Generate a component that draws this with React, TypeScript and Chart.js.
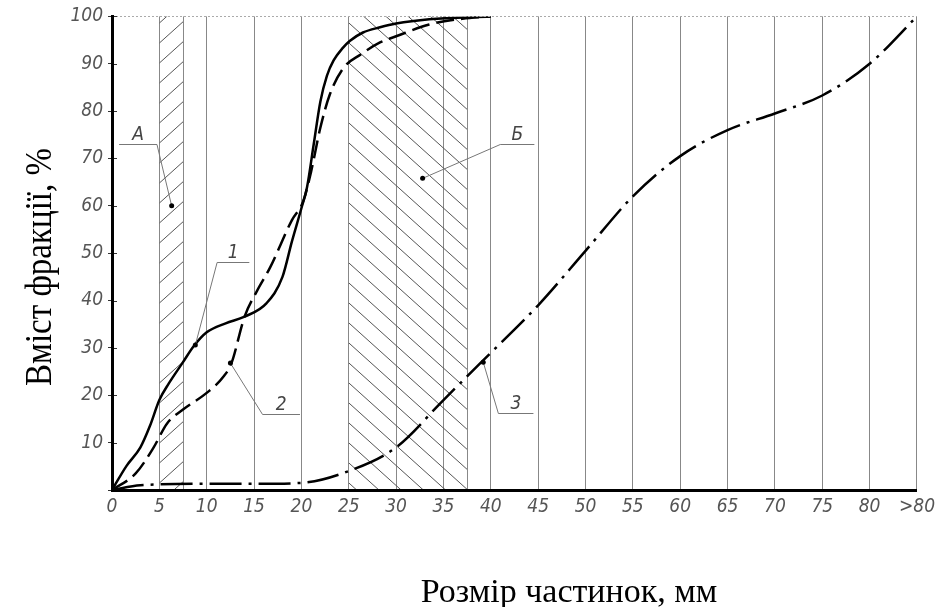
import React, { useEffect, useRef } from 'react';
import { Chart, registerables } from 'chart.js';

Chart.register(...registerables);

// ---------- DATA ----------
const xTickValues = [0, 5, 10, 15, 20, 25, 30, 35, 40, 45, 50, 55, 60, 65, 70, 75, 80, 85];
const xTickLabels = ['0', '5', '10', '15', '20', '25', '30', '35', '40', '45', '50', '55', '60', '65', '70', '75', '80', '>80'];
const yTickValues = [10, 20, 30, 40, 50, 60, 70, 80, 90, 100];
const yTickLabels = ['10', '20', '30', '40', '50', '60', '70', '80', '90', '100'];

const xAxisTitle = 'Розмір частинок, мм';
const yAxisTitle = 'Вміст фракції, %';

// Curve 1 (solid)
const curve1X = [0, 1.5, 3, 4, 5, 6, 7.5, 8.6, 10, 12, 14, 16.3, 18, 19, 20, 20.6, 21.3, 22, 22.7, 23.4, 24.4, 25.1, 26.5, 28.3, 30, 33.5, 40];
const curve1Y = [0, 5, 9, 13.5, 19, 22.5, 27, 30.3, 33.3, 35.2, 36.6, 39.4, 45, 52.5, 59.5, 64, 73, 82, 87.5, 90.7, 93.4, 94.8, 96.6, 97.7, 98.5, 99.4, 100];

// Curve 2 (dashed)
const curve2X = [0, 2.5, 4.4, 5.8, 7.5, 10, 11.8, 12.6, 14, 15.3, 16.7, 19, 20.2, 21, 22, 23, 24.4, 26.3, 28.3, 30, 33.5, 37, 40];
const curve2Y = [0, 3.5, 9, 14, 17, 20.5, 24, 26.7, 36.6, 42, 47, 57, 61, 67, 76.5, 83.5, 89, 92, 94.5, 95.8, 98.3, 99.5, 100];

// Curve 3 (dash-dot)
const curve3X = [0, 3, 10, 15, 20, 25, 30, 35, 39, 45, 50, 55, 60, 65, 70, 75, 80, 85];
const curve3Y = [0, 1, 1.3, 1.3, 1.5, 4, 9, 19, 27, 39, 50.5, 62, 70.5, 76, 79.5, 83.3, 90, 100];

// Hatched zones А and Б
const hatchStart = [5, 25];
const hatchEnd = [7.5, 37.5];
const hatchDirection = ['/', '\\'];

// Callout labels: anchor point on chart (data units), shelf (data units)
const calloutText = ['А', 'Б', '1', '2', '3'];
const calloutAnchorX = [6.3, 32.8, 8.8, 12.5, 39.2];
const calloutAnchorY = [60, 65.8, 30.6, 26.8, 27];
const calloutShelfX1 = [0.75, 41, 11.1, 15.9, 40.8];
const calloutShelfX2 = [4.75, 44.6, 14.5, 19.85, 44.5];
const calloutShelfY = [73, 73, 48.1, 16, 16.2];

// ---------- STYLE ----------
const TICK_FONT = "'DejaVu Sans Condensed', 'Liberation Sans Narrow', 'DejaVu Sans', sans-serif";
const TITLE_FONT = "'Liberation Serif', 'Times New Roman', serif";

const toPoints = (xs: number[], ys: number[]) => xs.map((x, i) => ({ x, y: ys[i] }));

const decorPlugin = {
  id: 'decor',
  beforeDatasetsDraw(chart: any) {
    const { ctx, chartArea: ca, scales } = chart;
    const xs = scales.x;
    hatchStart.forEach((s: number, i: number) => {
      const x1 = xs.getPixelForValue(s);
      const x2 = xs.getPixelForValue(hatchEnd[i]);
      const w = x2 - x1;
      const h = ca.bottom - ca.top;
      const slope = 0.9;
      const gap = 20;
      const dir = hatchDirection[i] === '/' ? -1 : 1;
      ctx.save();
      ctx.beginPath();
      ctx.rect(x1, ca.top, w, h - 1);
      ctx.clip();
      ctx.strokeStyle = '#555';
      ctx.lineWidth = 1;
      ctx.beginPath();
      for (let c = -w * slope - gap * 2 + (i === 0 ? 8 : 13); c < h + w * slope + gap; c += gap) {
        ctx.moveTo(x1, ca.top + c);
        ctx.lineTo(x2, ca.top + c + dir * slope * w);
      }
      ctx.stroke();
      ctx.restore();
      ctx.save();
      ctx.strokeStyle = '#888';
      ctx.lineWidth = 1;
      ctx.beginPath();
      ctx.moveTo(Math.round(x2) + 0.5, ca.top);
      ctx.lineTo(Math.round(x2) + 0.5, ca.bottom);
      ctx.stroke();
      ctx.restore();
    });
  },
  afterDatasetsDraw(chart: any) {
    const { ctx, chartArea: ca, scales } = chart;
    const xs = scales.x;
    const ys = scales.y;

    // top dotted border
    ctx.save();
    ctx.strokeStyle = '#aaa';
    ctx.lineWidth = 1;
    ctx.setLineDash([2, 2]);
    ctx.beginPath();
    ctx.moveTo(ca.left, Math.round(ca.top) + 0.5);
    ctx.lineTo(ca.right, Math.round(ca.top) + 0.5);
    ctx.stroke();
    ctx.restore();

    // inner part of y tick marks
    ctx.save();
    ctx.strokeStyle = '#333';
    ctx.lineWidth = 1;
    ctx.beginPath();
    yTickValues.forEach((v: number) => {
      const y = Math.round(ys.getPixelForValue(v)) + 0.5;
      ctx.moveTo(ca.left, y);
      ctx.lineTo(ca.left + 5, y);
    });
    ctx.stroke();
    ctx.restore();

    // callouts
    calloutText.forEach((t: string, i: number) => {
      const ax = xs.getPixelForValue(calloutAnchorX[i]);
      const ay = ys.getPixelForValue(calloutAnchorY[i]);
      const s1 = xs.getPixelForValue(calloutShelfX1[i]);
      const s2 = xs.getPixelForValue(calloutShelfX2[i]);
      const sy = ys.getPixelForValue(calloutShelfY[i]);
      const ex = Math.abs(s1 - ax) < Math.abs(s2 - ax) ? s1 : s2;
      ctx.save();
      ctx.strokeStyle = '#777';
      ctx.lineWidth = 1;
      ctx.beginPath();
      ctx.moveTo(s1, Math.round(sy) + 0.5);
      ctx.lineTo(s2, Math.round(sy) + 0.5);
      ctx.moveTo(ex, Math.round(sy) + 0.5);
      ctx.lineTo(ax, ay);
      ctx.stroke();
      ctx.fillStyle = '#000';
      ctx.beginPath();
      ctx.arc(ax, ay, 2.5, 0, Math.PI * 2);
      ctx.fill();
      ctx.fillStyle = '#444';
      ctx.font = `italic 19px ${TICK_FONT}`;
      ctx.textAlign = 'center';
      ctx.textBaseline = 'alphabetic';
      ctx.fillText(t, (s1 + s2) / 2, sy - 4);
      ctx.restore();
    });

    // axis titles
    ctx.save();
    ctx.fillStyle = '#000';
    ctx.font = `34px ${TITLE_FONT}`;
    ctx.textAlign = 'center';
    ctx.textBaseline = 'alphabetic';
    ctx.fillText(xAxisTitle, 569, 602);
    ctx.translate(51, 267);
    ctx.rotate(-Math.PI / 2);
    ctx.scale(1, 1.15);
    ctx.font = `33px ${TITLE_FONT}`;
    ctx.fillText(yAxisTitle, 0, 0);
    ctx.restore();
  },
};

export default function App() {
  const ref = useRef<HTMLCanvasElement | null>(null);

  useEffect(() => {
    if (!ref.current) return;
    const chart = new Chart(ref.current, {
      type: 'line',
      data: {
        datasets: [
          {
            label: '1',
            data: toPoints(curve1X, curve1Y),
            borderColor: '#000',
            borderWidth: 2.5,
            pointRadius: 0,
            cubicInterpolationMode: 'monotone',
            fill: false,
          },
          {
            label: '2',
            data: toPoints(curve2X, curve2Y),
            borderColor: '#000',
            borderWidth: 2.5,
            borderDash: [18, 7],
            pointRadius: 0,
            cubicInterpolationMode: 'monotone',
            fill: false,
          },
          {
            label: '3',
            data: toPoints(curve3X, curve3Y),
            borderColor: '#000',
            borderWidth: 2.5,
            borderDash: [32, 7, 3, 7],
            pointRadius: 0,
            cubicInterpolationMode: 'monotone',
            fill: false,
          },
        ],
      },
      options: {
        responsive: false,
        animation: false,
        devicePixelRatio: 1,
        layout: { padding: { left: 0, top: 16, right: 24, bottom: 0 } },
        plugins: {
          legend: { display: false },
          tooltip: { enabled: false },
          title: { display: false },
        },
        scales: {
          x: {
            type: 'linear',
            min: 0,
            max: 85,
            afterFit: (s: any) => {
              s.height = 117;
            },
            afterBuildTicks: (s: any) => {
              s.ticks = xTickValues.map((v) => ({ value: v }));
            },
            ticks: {
              autoSkip: false,
              maxRotation: 0,
              padding: 6,
              color: '#555',
              font: { family: TICK_FONT, size: 19, style: 'italic' },
              callback: (v: any) => {
                const i = xTickValues.indexOf(Number(v));
                return i >= 0 ? xTickLabels[i] : '';
              },
            },
            grid: { color: '#888', lineWidth: 1, drawTicks: false },
            border: { display: true, color: '#000', width: 3, z: 1 },
          },
          y: {
            type: 'linear',
            min: 0,
            max: 100,
            afterFit: (s: any) => {
              s.width = 112;
            },
            afterBuildTicks: (s: any) => {
              s.ticks = [0, ...yTickValues].map((v) => ({ value: v }));
            },
            ticks: {
              autoSkip: false,
              padding: 5,
              color: '#555',
              font: { family: TICK_FONT, size: 19, style: 'italic' },
              callback: (v: any) => {
                const i = yTickValues.indexOf(Number(v));
                return i >= 0 ? yTickLabels[i] : '';
              },
            },
            grid: { drawOnChartArea: false, drawTicks: true, tickLength: 4, color: '#333', lineWidth: 1 },
            border: { display: true, color: '#000', width: 3, z: 1 },
          },
        },
      },
      plugins: [decorPlugin],
    } as any);
    return () => chart.destroy();
  }, []);

  return (
    <div style={{ position: 'fixed', left: 0, top: 0, width: 941, height: 607, background: '#fff' }}>
      <canvas ref={ref} width={941} height={607} style={{ width: 941, height: 607, display: 'block' }} />
    </div>
  );
}
